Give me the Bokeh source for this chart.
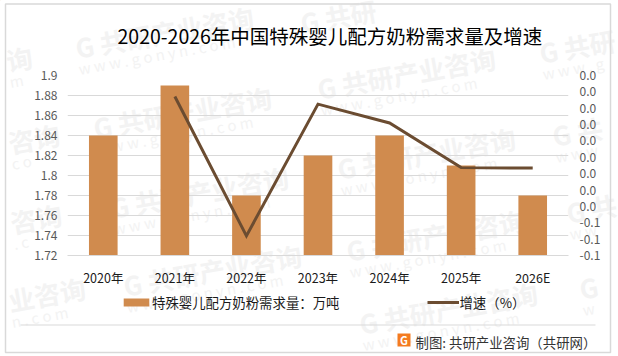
from bokeh.embed import file_html
from bokeh.resources import INLINE
from bokeh.plotting import figure
from bokeh.models import Range1d, LinearAxis, FixedTicker, Legend, LegendItem
from bokeh.core.properties import value

years = ["2020年", "2021年", "2022年", "2023年", "2024年", "2025年", "2026E"]
demand = [1.84, 1.89, 1.78, 1.82, 1.84, 1.81, 1.78]
growth_years = ["2021年", "2022年", "2023年", "2024年", "2025年", "2026E"]
growth = [0.0272, -0.058, 0.0225, 0.011, -0.0163, -0.0166]
left_ticks = [1.72, 1.74, 1.76, 1.78, 1.8, 1.82, 1.84, 1.86, 1.88, 1.9]
left_labels = ["1.72", "1.74", "1.76", "1.78", "1.8", "1.82", "1.84", "1.86", "1.88", "1.9"]
right_ticks = [-0.07, -0.06, -0.05, -0.04, -0.03, -0.02, -0.01, 0.0, 0.01, 0.02, 0.03, 0.04]
right_labels = ["-0.1", "-0.1", "-0.1", "0.0", "0.0", "0.0", "0.0", "0.0", "0.0", "0.0", "0.0", "0.0"]
title_text = "2020-2026年中国特殊婴儿配方奶粉需求量及增速"
bar_name = "特殊婴儿配方奶粉需求量：万吨"
line_name = "增速（%）"
source_text = "制图: 共研产业咨询（共研网）"

W, H = 618, 356
FONT = "Noto Sans CJK SC"
GRID = "#d9d9d9"
BAR = "#d08b4e"
LINE = "#6b4c31"
ABS = {"position": "absolute", "left": "0px", "top": "0px"}

# ---- background page: frame, watermarks, title, legend, source ----
bg = figure(width=W, height=H, x_range=Range1d(0, W), y_range=Range1d(H, 0), x_axis_type=None, y_axis_type=None,
            output_backend="svg", toolbar_location=None, min_border=0)
bg.styles = ABS
bg.outline_line_color = None
bg.grid.visible = False

def text(x, y, s, size, color="#000000", align="left", style="normal", angle=0.0):
    bg.text(x=[x], y=[y], text=[s], text_font=value(FONT), text_font_size=size, text_color=color,
            text_align=align, text_baseline="middle", text_font_style=style, angle=angle, angle_units="deg")

WM = "#f3f3f3"
marks = [(75, 47, "G 共研产业咨询", "w w w . g o n y n . c o m"),
         (93, 127, "G 共研产业咨询", "w w w . g o n y n . c o m"),
         (110, 207, "G 共研产业咨询", "w w w . g o n y n . c o m"),
         (123, 285, "G 共研产业咨询", "w w w . g o n y n . c o m"),
         (317, 88, "G 共研产业咨询", "w w w . g o n y n . c o m"),
         (337, 168, "G 共研产业咨询", "w w w . g o n y n . c o m"),
         (346, 250, "G 共研产业咨询", "w w w . g o n y n . c o m"),
         (359, 323, "G 共研产业咨询", "w w w . g o n y n . c o m"),
         (539, 52, "G 共研", "w w w . g"),
         (552, 135, "G 共", "w w w"),
         (566, 212, "G 共", "w w"),
         (579, 288, "G", "w"),
         (6, 60, "询", "m"),
         (8, 142, "咨询", "c o"),
         (10, 222, "咨询", ". c"),
         (8, 300, "业咨询", "n . c o m"),
         (300, 22, "G 共研", "")]
for (x, y, t1, t2) in marks:
    text(x, y, t1, "26px", WM, style="bold", angle=10)
    if t2:
        text(x + 3, y + 21, t2, "15px", WM, angle=10)

bg.quad(left=[5], right=[610], top=[3.5], bottom=[352], fill_alpha=0, line_color=GRID, line_width=1.5)
bg.line(x=[20, 595], y=[324.5, 324.5], line_color=GRID, line_width=1)

text(117, 35, title_text, "19.5px")
text(415, 341, source_text, "13.4px", "#333333")
bg.quad(left=[397], right=[410], top=[333], bottom=[346], fill_color="#f47b20", line_color=None)
text(403.5, 339.5, "G", "11px", "white", align="center", style="bold")

# legend keys: same styles as the chart's marks, kept outside the visible range
proxy_bar = bg.vbar(x=[-50], top=[-50], bottom=[-60], width=1, fill_color=BAR, line_color=None)
proxy_line = bg.line(x=[-60, -50], y=[-50, -50], line_color=LINE, line_width=3)
legend = Legend(items=[LegendItem(label=bar_name, renderers=[proxy_bar]),
                       LegendItem(label=line_name, renderers=[proxy_line])],
                orientation="horizontal", location=(120, 44), padding=0, margin=0,
                spacing=88, glyph_width=32, glyph_height=10, label_standoff=0,
                border_line_color=None, background_fill_alpha=0,
                label_text_font=FONT, label_text_font_size="13.4px", label_text_color="#1a1a1a")
bg.add_layout(legend, "center")

# ---- chart ----
p = figure(width=W, height=H, x_range=years, y_range=Range1d(1.72, 1.9),
           output_backend="svg", toolbar_location=None,
           min_border_left=67, min_border_right=50, min_border_top=75, min_border_bottom=101)
p.styles = ABS
p.outline_line_color = None
p.background_fill_alpha = 0
p.border_fill_alpha = 0
p.extra_y_ranges = {"g": Range1d(-0.07, 0.04)}

p.xgrid.visible = False
p.ygrid.grid_line_color = GRID
p.ygrid.ticker = FixedTicker(ticks=left_ticks)

p.vbar(x=years, top=demand, bottom=1.72, width=0.4, fill_color=BAR, line_color=None)
p.line(x=growth_years, y=growth, y_range_name="g", line_color=LINE, line_width=3, line_join="miter")

ya = p.yaxis[0]
ya.ticker = FixedTicker(ticks=left_ticks)
ya.major_label_overrides = dict(zip(left_ticks, left_labels))
ya.axis_line_color = None
ya.major_tick_line_color = None
ya.major_tick_out = 0
ya.minor_tick_line_color = None
ya.major_label_text_font = FONT
ya.major_label_text_font_size = "12px"
ya.major_label_text_color = "#595959"
ya.major_label_standoff = 10

ra = LinearAxis(y_range_name="g", ticker=FixedTicker(ticks=right_ticks))
ra.major_label_overrides = dict(zip(right_ticks, right_labels))
ra.axis_line_color = None
ra.major_tick_line_color = None
ra.major_tick_out = 0
ra.minor_tick_line_color = None
ra.major_label_text_font = FONT
ra.major_label_text_font_size = "12px"
ra.major_label_text_color = "#595959"
ra.major_label_standoff = 11
p.add_layout(ra, "right")

xa = p.xaxis[0]
xa.axis_line_color = GRID
xa.major_tick_line_color = None
xa.major_tick_out = 0
xa.minor_tick_line_color = None
xa.major_label_text_font = FONT
xa.major_label_text_font_size = "12.5px"
xa.major_label_text_color = "#1a1a1a"
xa.major_label_standoff = 12

open("out.html", "w").write(file_html([bg, p], INLINE))
